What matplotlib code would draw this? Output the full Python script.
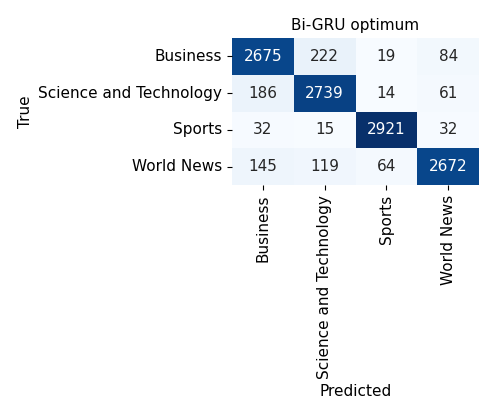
import numpy as np
import matplotlib
matplotlib.use("Agg")
import matplotlib.pyplot as plt
import seaborn as sns

labels = ["Business", "Science and Technology", "Sports", "World News"]
cm = np.array([
    [2675, 222, 19, 84],
    [186, 2739, 14, 61],
    [32, 15, 2921, 32],
    [145, 119, 64, 2672],
])

fig = plt.figure(figsize=(4.95, 4.18), dpi=100)
ax = fig.add_axes([0.4687, 0.5574, 0.499, 0.3517])
sns.heatmap(cm, annot=True, fmt="d", cmap="Blues", cbar=False,
            xticklabels=labels, yticklabels=labels, ax=ax,
            annot_kws={"fontsize": 11})
ax.tick_params(axis="both", labelsize=11)
plt.setp(ax.get_xticklabels(), rotation=90)
plt.setp(ax.get_yticklabels(), rotation=0)
ax.set_xlabel("Predicted", fontsize=11)
ax.set_ylabel("True", fontsize=11)
ax.set_title("Bi-GRU optimum", fontsize=11)
fig.savefig("out.png", dpi=100)
